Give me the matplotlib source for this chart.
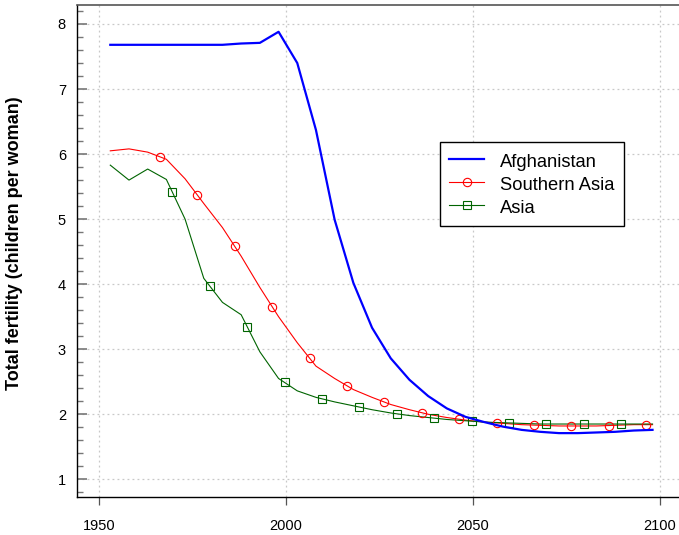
import matplotlib
matplotlib.use("Agg")
import matplotlib.pyplot as plt
import numpy as np
from matplotlib.lines import Line2D

plt.rcParams["font.family"] = ["Liberation Sans", "DejaVu Sans"]

years = [1953, 1958, 1963, 1968, 1973, 1978, 1983, 1988, 1993, 1998,
         2003, 2008, 2013, 2018, 2023, 2028, 2033, 2038, 2043, 2048,
         2053, 2058, 2063, 2068, 2073, 2078, 2083, 2088, 2093, 2098]

afghanistan = [7.68, 7.68, 7.68, 7.68, 7.68, 7.68, 7.68, 7.70, 7.71, 7.88,
               7.40, 6.37, 4.99, 4.02, 3.33, 2.86, 2.53, 2.28, 2.09, 1.96,
               1.88, 1.81, 1.76, 1.73, 1.71, 1.71, 1.72, 1.73, 1.75, 1.76]

southern_asia = [6.05, 6.08, 6.03, 5.92, 5.62, 5.24, 4.87, 4.43, 3.95, 3.50,
                 3.10, 2.74, 2.55, 2.38, 2.26, 2.15, 2.07, 2.00, 1.95, 1.91,
                 1.88, 1.86, 1.84, 1.83, 1.82, 1.82, 1.82, 1.83, 1.84, 1.84]

asia = [5.83, 5.60, 5.77, 5.61, 5.00, 4.09, 3.72, 3.53, 2.96, 2.55,
        2.36, 2.26, 2.19, 2.13, 2.07, 2.02, 1.98, 1.95, 1.92, 1.90,
        1.88, 1.87, 1.86, 1.85, 1.85, 1.85, 1.85, 1.85, 1.85, 1.85]

# markers sit every 10 years along the line, not on the data points
red_marker_years = np.arange(1966.3, 2097, 10)
green_marker_years = np.arange(1969.6, 2090, 10)

x_ticks = [1950, 2000, 2050, 2100]
y_ticks = [1, 2, 3, 4, 5, 6, 7, 8]

BLUE = "#0000ff"
RED = "#ff0000"
GREEN = "#006400"

fig = plt.figure(figsize=(6.79, 5.35), dpi=100)
ax = fig.add_axes([77 / 679, 38 / 535, 620.4 / 679, 492 / 535])

ax.plot(years, afghanistan, color=BLUE, lw=1.6, zorder=4)
ax.plot(years, southern_asia, color=RED, lw=0.8, zorder=3)
ax.plot(years, asia, color=GREEN, lw=0.8, zorder=3)
ax.plot(red_marker_years, np.interp(red_marker_years, years, southern_asia),
        ls="none", marker="o", ms=6, mfc="none", mec=RED, mew=0.8, zorder=3)
ax.plot(green_marker_years, np.interp(green_marker_years, years, asia),
        ls="none", marker="s", ms=6, mfc="none", mec=GREEN, mew=0.8, zorder=3)

ax.set_xlim(1944.1, 2110)
ax.set_ylim(0.728, 8.292)
ax.set_xticks(x_ticks)
ax.set_yticks(y_ticks)
ax.set_yticks(np.arange(0.8, 8.3, 0.2), minor=True)
ax.grid(True, which="major", color="#c8c8c8", ls=(0, (1.5, 2.5)), lw=0.9)
ax.set_axisbelow(True)

ax.tick_params(axis="x", direction="out", length=6, width=0.9, color="#555555",
               labelsize=10.5, pad=10)
ax.tick_params(axis="y", which="major", direction="in", length=7, width=1.2,
               color="#777777", labelsize=10.5, pad=8)
ax.tick_params(axis="y", which="minor", direction="in", length=4, width=1.0,
               color="#777777")

ax.spines["right"].set_visible(False)
ax.spines["top"].set_color("#555555")
ax.spines["top"].set_linewidth(1.2)
for side in ("left", "bottom"):
    ax.spines[side].set_color("black")
    ax.spines[side].set_linewidth(1.0)

ax.set_ylabel("Total fertility (children per woman)", fontsize=13,
              fontweight="bold")
ax.yaxis.set_label_coords(-0.087, 0.516)

handles = [
    Line2D([], [], color=BLUE, lw=1.6),
    Line2D([], [], color=RED, lw=0.8, marker="o", ms=6, mfc="none", mew=0.8),
    Line2D([], [], color=GREEN, lw=0.8, marker="s", ms=6, mfc="none", mew=0.8),
]
leg = ax.legend(handles, ["Afghanistan", "Southern Asia", "Asia"],
                loc="upper left", bbox_to_anchor=(0.585, 0.7215), borderaxespad=0,
                fontsize=13.2, fancybox=False, edgecolor="black", framealpha=1,
                handlelength=1.9, handletextpad=0.9, labelspacing=0.15,
                handleheight=1.3, borderpad=0.5)
leg.get_frame().set_linewidth(1.0)

fig.savefig("out.png", dpi=100)
